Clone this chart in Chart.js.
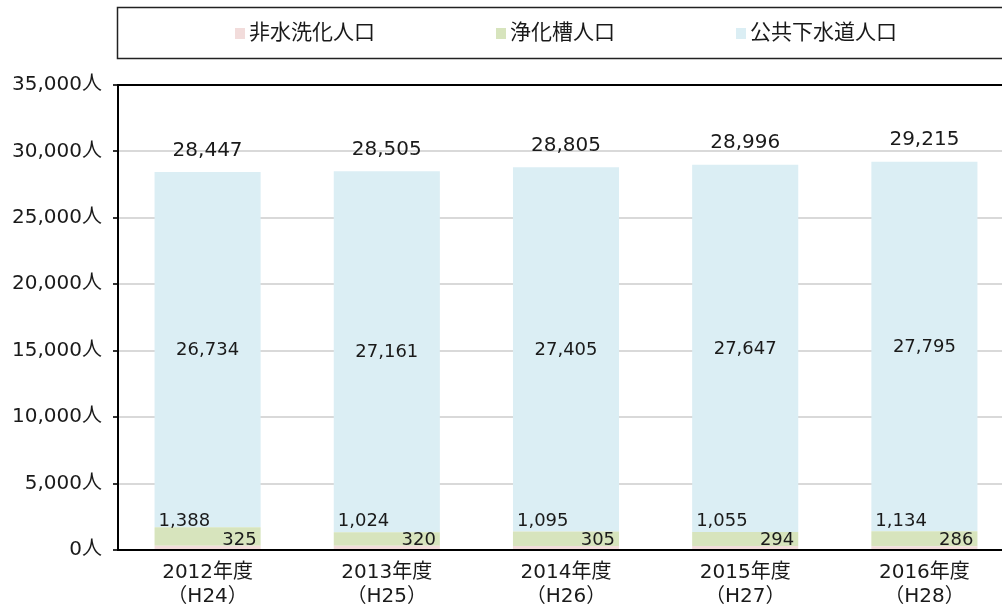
<!DOCTYPE html>
<html lang="ja">
<head>
<meta charset="utf-8">
<script src="https://cdn.jsdelivr.net/npm/chart.js@4.4.1/dist/chart.umd.min.js"></script>
<style>
  html, body { margin: 0; padding: 0; background: #fff; overflow: hidden; }
  canvas { display: block; }
</style>
</head>
<body>
<canvas id="sewerChart" width="1014" height="609" style="width:1014px;height:609px"></canvas>
<script>
// categories (fiscal years) and population by treatment type
const categories = [
  ['2012年度', '（H24）'],
  ['2013年度', '（H25）'],
  ['2014年度', '（H26）'],
  ['2015年度', '（H27）'],
  ['2016年度', '（H28）']
];
const seriesNames = ['非水洗化人口', '浄化槽人口', '公共下水道人口'];
const nonFlushPop = [325, 320, 305, 294, 286];
const septicPop = [1388, 1024, 1095, 1055, 1134];
const sewerPop = [26734, 27161, 27405, 27647, 27795];

const FONT = '"DejaVu Sans", "Noto Sans CJK JP", sans-serif';
const TEXT = '#1a1a1a';

function fmt(v) {
  return v.toLocaleString('en-US');
}

// legend inside a framed box at the top
const boxLegend = {
  id: 'boxLegend',
  afterDraw(chart) {
    const ctx = chart.ctx;
    const area = chart.chartArea;
    ctx.save();
    ctx.strokeStyle = '#222';
    ctx.lineWidth = 1.5;
    ctx.strokeRect(117.5, 7.5, chart.width + 20, 51);

    ctx.font = '21px ' + FONT;
    ctx.textBaseline = 'middle';
    const box = 10, gap = 4, spacing = 121;
    const items = chart.data.datasets.map(ds => ({
      label: ds.label,
      color: ds.backgroundColor,
      w: box + gap + ctx.measureText(ds.label).width
    }));
    const total = items.reduce((s, it) => s + it.w, 0) + spacing * (items.length - 1);
    let x = (area.left + area.right) / 2 - total / 2;
    const y = 33;
    items.forEach(it => {
      ctx.fillStyle = it.color;
      ctx.fillRect(x, y - 5, box, 11);
      ctx.fillStyle = TEXT;
      ctx.fillText(it.label, x + box + gap, y + 1);
      x += it.w + spacing;
    });
    ctx.restore();
  }
};

// value labels on the segments and totals above the bars
const barLabels = {
  id: 'barLabels',
  afterDatasetsDraw(chart) {
    const ctx = chart.ctx;
    const pink = chart.getDatasetMeta(0).data;
    const blue = chart.getDatasetMeta(2).data;
    ctx.save();
    ctx.fillStyle = TEXT;
    ctx.textBaseline = 'alphabetic';
    categories.forEach((c, i) => {
      const p = pink[i], b = blue[i];
      const half = p.width / 2;

      // non-flush: right aligned near the bottom
      ctx.font = '18px ' + FONT;
      ctx.textAlign = 'right';
      ctx.fillText(fmt(nonFlushPop[i]), p.x + half - 4, p.base - 4.5);

      // septic tank: left aligned just above the green segment
      ctx.textAlign = 'left';
      ctx.fillText(fmt(septicPop[i]), p.x - half + 4, p.base - 23);

      // public sewer: centred in the blue segment
      ctx.textAlign = 'center';
      ctx.textBaseline = 'middle';
      ctx.fillText(fmt(sewerPop[i]), b.x, (b.y + b.base) / 2 + 1);

      // total above the bar
      ctx.font = '20px ' + FONT;
      ctx.textBaseline = 'alphabetic';
      const total = nonFlushPop[i] + septicPop[i] + sewerPop[i];
      ctx.fillText(fmt(total), b.x, b.y - 16.5);
    });
    ctx.restore();
  }
};

const ctx = document.getElementById('sewerChart').getContext('2d');

new Chart(ctx, {
  type: 'bar',
  data: {
    labels: categories,
    datasets: [
      { label: seriesNames[0], data: nonFlushPop, backgroundColor: '#F2DCDB' },
      { label: seriesNames[1], data: septicPop, backgroundColor: '#D7E4BD' },
      { label: seriesNames[2], data: sewerPop, backgroundColor: '#DBEEF4' }
    ]
  },
  options: {
    responsive: false,
    animation: false,
    devicePixelRatio: 1,
    layout: { padding: { top: 85, right: 0, bottom: 0, left: 0 } },
    datasets: {
      bar: { barPercentage: 0.592, categoryPercentage: 1, borderWidth: 0 }
    },
    plugins: {
      legend: { display: false },
      tooltip: { enabled: false }
    },
    scales: {
      x: {
        stacked: true,
        grid: { display: false, drawTicks: false },
        border: { display: true, color: '#000', width: 2 },
        ticks: {
          color: TEXT,
          padding: 11,
          font: { family: FONT, size: 20, lineHeight: 1.2 },
          maxRotation: 0,
          autoSkip: false
        },
        afterFit(scale) { scale.height = 59; }
      },
      y: {
        stacked: true,
        min: 0,
        max: 35000,
        grid: {
          color: c => (c.tick && c.tick.value === 35000 ? '#000' : '#D9D9D9'),
          lineWidth: 2,
          tickLength: 5,
          tickColor: '#333'
        },
        border: { display: true, color: '#000', width: 2 },
        ticks: {
          stepSize: 5000,
          color: TEXT,
          padding: 11,
          font: { family: FONT, size: 20 },
          callback: v => fmt(v) + '人'
        },
        afterFit(scale) { scale.width = 118; }
      }
    }
  },
  plugins: [boxLegend, barLabels]
});
</script>
</body>
</html>
